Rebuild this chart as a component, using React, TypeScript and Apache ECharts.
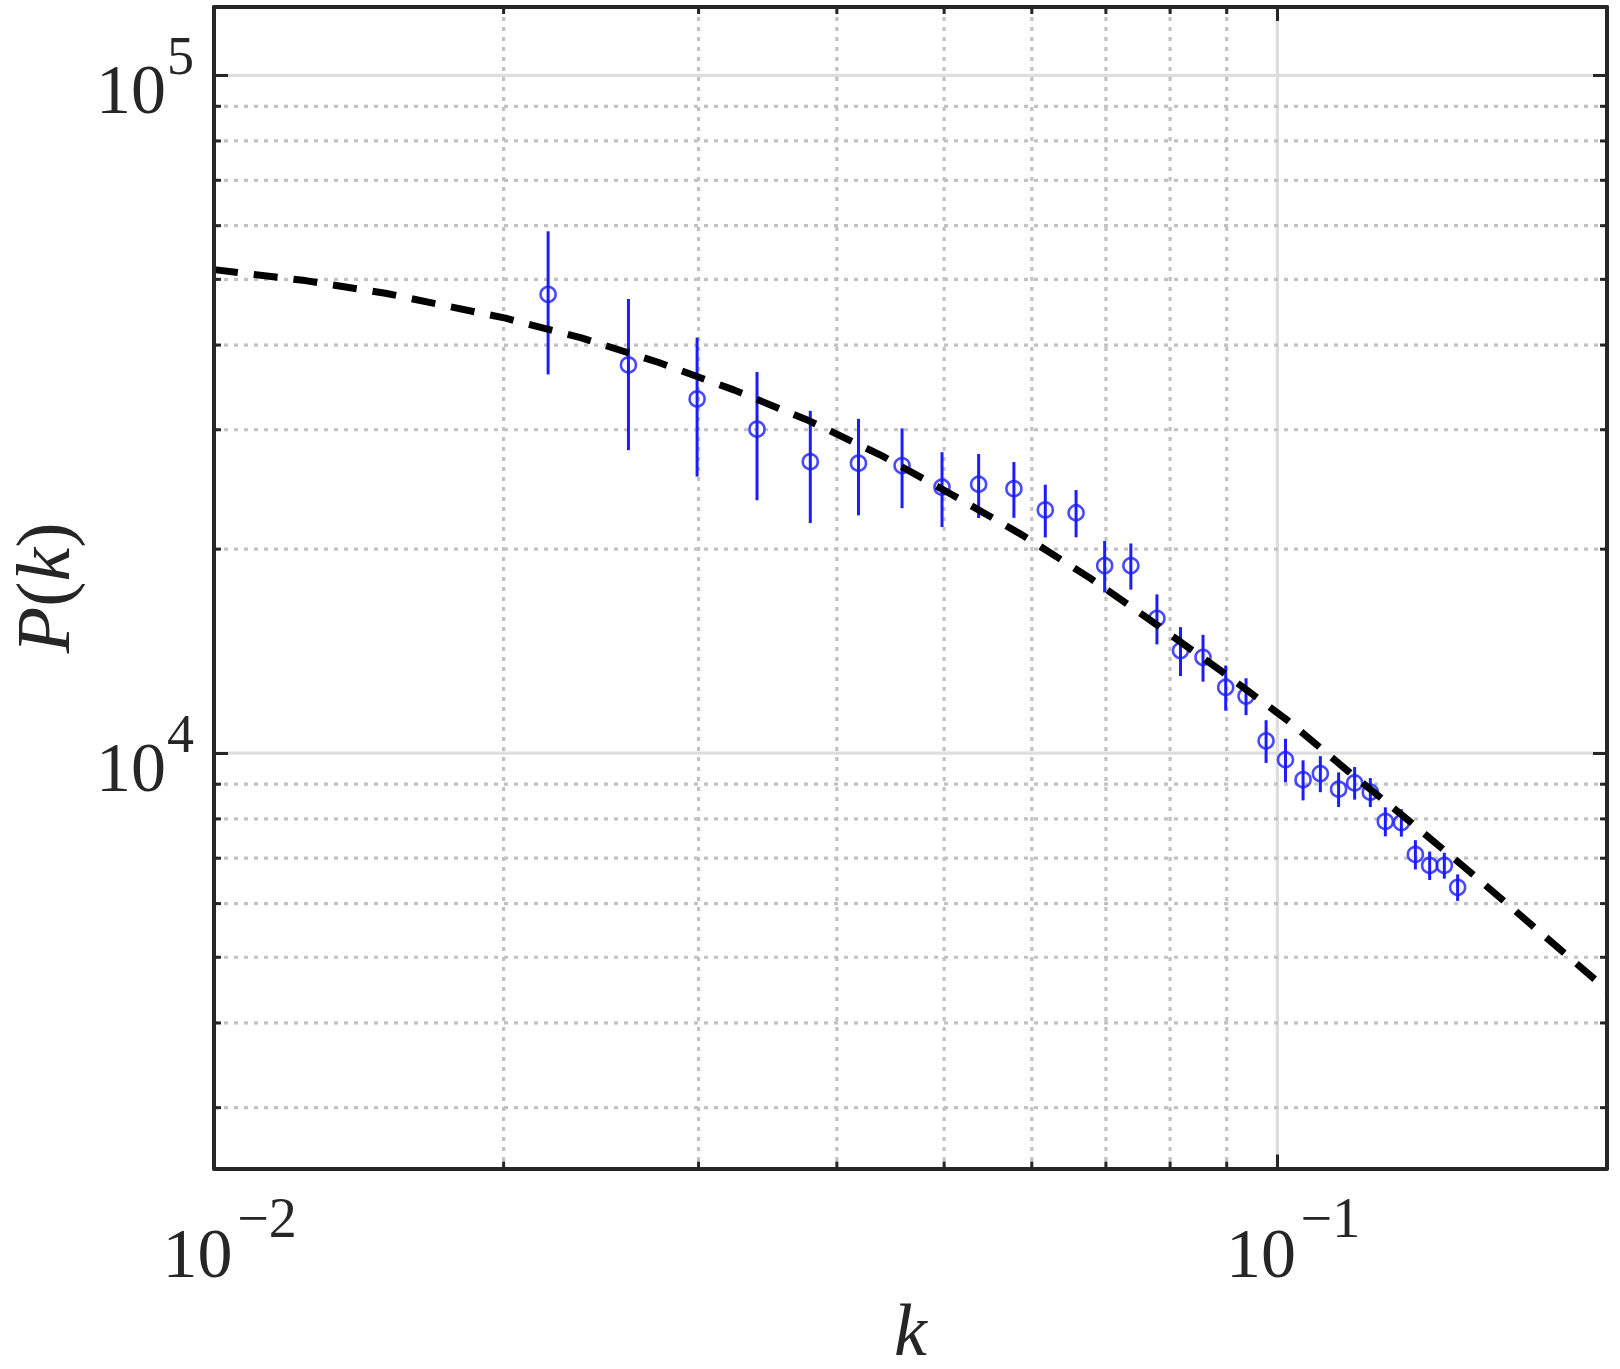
import React, { useEffect, useRef } from "react";
import * as echarts from "echarts";

// ---- data ----
const kValues = [
  0.02194, 0.02593, 0.02991, 0.03388, 0.03785, 0.04184, 0.04581, 0.04978,
  0.05372, 0.05781, 0.06171, 0.06579, 0.06982, 0.07373, 0.07784, 0.08175,
  0.08567, 0.08981, 0.09369, 0.09768, 0.1017, 0.10549, 0.10935, 0.11358,
  0.11743, 0.12133, 0.12518, 0.12942, 0.13325, 0.13727, 0.14152, 0.14549,
];
const pValues = [
  47530, 37380, 33310, 30060, 26920, 26780, 26560, 24680,
  24930, 24560, 22850, 22630, 18910, 18910, 15810, 14170,
  13850, 12510, 12140, 10430, 9780, 9140, 9330, 8850,
  9040, 8760, 7930, 7900, 7090, 6830, 6830, 6340,
];
const pErrors = [
  11330, 9390, 7720, 6450, 5070, 4350, 3580, 3120,
  2700, 2320, 2040, 1810, 1650, 1480, 1340, 1175,
  1100, 955, 760, 755, 720, 620, 570, 520,
  500, 430, 390, 367, 353, 330, 300, 285,
];
const modelK = [
  0.01095, 0.01324, 0.01564, 0.02008, 0.02347, 0.02758, 0.03228, 0.03772,
  0.04395, 0.05088, 0.05879, 0.06779, 0.07784, 0.08913, 0.102, 0.116,
  0.1318, 0.1504, 0.1985,
];
const modelP = [
  51680, 49790, 47700, 43820, 41020, 37730, 34350, 30950,
  27450, 24040, 20990, 18110, 15460, 13190, 11200, 9391,
  7924, 6612, 4477,
];
const xMinorTicks = [0.02, 0.03, 0.04, 0.05, 0.06, 0.07, 0.08, 0.09];
const xMajorGrid = [0.1];
const yMinorTicks = [
  3000, 4000, 5000, 6000, 7000, 8000, 9000,
  20000, 30000, 40000, 50000, 60000, 70000, 80000, 90000,
];
const yMajorGrid = [10000, 100000];
const X_MIN = 0.01095;
const X_MAX = 0.1985;
const Y_MIN = 2440;
const Y_MAX = 126100;

const FONT = "Liberation Serif";
const DARK = "#262626";
const BLUE = "#1c1cff";

// vertical placement of the y tick label parts, in decades of the log axis
const Y_EXP_SHIFT = -0.029; // exponent sits above the decade line
const Y_BASE_SHIFT = 0.021; // "10" sits slightly below it

function xBase(v: number): string {
  if (Math.abs(Math.log10(v) + 1) < 1e-6) return "10";
  if (v < 0.0115) return "10";
  return "";
}
function xExp(v: number): string {
  if (Math.abs(Math.log10(v) + 1) < 1e-6) return "\u22121";
  if (v < 0.0115) return "\u22122";
  return "";
}
function isDecade(v: number): boolean {
  const e = Math.log10(v);
  return Math.abs(e - Math.round(e)) < 1e-6 && (Math.round(e) === 4 || Math.round(e) === 5);
}
function yBase(v: number): string {
  return isDecade(v) ? "10" : "";
}
function yExp(v: number): string {
  return isDecade(v) ? String(Math.round(Math.log10(v))) : "";
}

export default function App() {
  const ref = useRef<HTMLDivElement>(null);
  useEffect(() => {
    if (!ref.current) return;
    const chart = echarts.init(ref.current, undefined, { renderer: "svg" });

    const tick = { inside: true, length: 14, lineStyle: { color: DARK, width: 3 } };
    const axLine = { show: true, onZero: false, lineStyle: { color: DARK, width: 4 } };

    const vLines = (solid: boolean) => (params: any, api: any) => {
      const cs = params.coordSys;
      const x = api.coord([api.value(0), 10000])[0];
      const children: any[] = [
        {
          type: "line",
          shape: { x1: x, y1: cs.y, x2: x, y2: cs.y + cs.height },
          style: solid
            ? { stroke: "#dedede", lineWidth: 3.3 }
            : { stroke: "#c2c2c2", lineWidth: 3.2, lineDash: [4, 6] },
        },
      ];
      if (!solid) {
        children.push(
          { type: "line", shape: { x1: x, y1: cs.y + cs.height, x2: x, y2: cs.y + cs.height - 7 }, style: { stroke: DARK, lineWidth: 3 } },
          { type: "line", shape: { x1: x, y1: cs.y, x2: x, y2: cs.y + 7 }, style: { stroke: DARK, lineWidth: 3 } }
        );
      }
      return { type: "group", children };
    };
    const hLines = (solid: boolean) => (params: any, api: any) => {
      const cs = params.coordSys;
      const y = api.coord([0.05, api.value(1)])[1];
      const children: any[] = [
        {
          type: "line",
          shape: { x1: cs.x, y1: y, x2: cs.x + cs.width, y2: y },
          style: solid
            ? { stroke: "#dedede", lineWidth: 3.3 }
            : { stroke: "#c2c2c2", lineWidth: 3.2, lineDash: [4, 6] },
        },
      ];
      if (!solid) {
        children.push(
          { type: "line", shape: { x1: cs.x, y1: y, x2: cs.x + 7, y2: y }, style: { stroke: DARK, lineWidth: 3 } },
          { type: "line", shape: { x1: cs.x + cs.width, y1: y, x2: cs.x + cs.width - 7, y2: y }, style: { stroke: DARK, lineWidth: 3 } }
        );
      }
      return { type: "group", children };
    };

    const hiddenX = (label: any) => ({
      type: "log",
      logBase: 10,
      min: X_MIN,
      max: X_MAX,
      position: "bottom",
      z: 10,
      axisLine: { show: false },
      axisTick: { show: false },
      splitLine: { show: false },
      axisLabel: label,
    });
    const hiddenY = (shift: number, label: any) => ({
      type: "log",
      logBase: 10,
      min: Y_MIN * Math.pow(10, shift),
      max: Y_MAX * Math.pow(10, shift),
      position: "left",
      z: 10,
      axisLine: { show: false },
      axisTick: { show: false },
      splitLine: { show: false },
      axisLabel: label,
    });

    chart.setOption({
      animation: false,
      backgroundColor: "#ffffff",
      grid: {
        left: 214,
        top: 7,
        right: 13,
        bottom: 200.5,
        containLabel: false,
        outerBoundsMode: "none",
      },
      xAxis: [
        {
          type: "log",
          logBase: 10,
          min: X_MIN,
          max: X_MAX,
          position: "bottom",
          z: 10,
          axisLine: axLine,
          axisTick: tick,
          splitLine: { show: false },
          minorTick: { show: false },
          axisLabel: {
            formatter: xBase,
            fontSize: 70,
            fontFamily: FONT,
            color: DARK,
            margin: 50,
            padding: [0, 33, 0, 0],
            showMinLabel: true,
            showMaxLabel: false,
            hideOverlap: false,
          },
          name: "k",
          nameLocation: "middle",
          nameGap: 113,
          nameTextStyle: {
            fontFamily: FONT,
            fontSize: 74,
            fontStyle: "italic",
            color: DARK,
          },
        },
        {
          type: "log",
          logBase: 10,
          min: X_MIN,
          max: X_MAX,
          position: "top",
          z: 10,
          axisLine: axLine,
          axisTick: tick,
          splitLine: { show: false },
          axisLabel: { show: false },
        },
        hiddenX({
          formatter: xExp,
          fontSize: 56,
          fontFamily: FONT,
          color: DARK,
          margin: 21,
          padding: [0, 0, 0, 106],
          showMinLabel: true,
          showMaxLabel: false,
          hideOverlap: false,
        }),
      ],
      yAxis: [
        {
          type: "log",
          logBase: 10,
          min: Y_MIN,
          max: Y_MAX,
          position: "left",
          z: 10,
          axisLine: axLine,
          axisTick: tick,
          splitLine: { show: false },
          axisLabel: { show: false },
          name: "{i|P}{n|(}{i|k}{n|)}",
          nameLocation: "middle",
          nameGap: 133,
          nameTextStyle: {
            fontFamily: FONT,
            fontSize: 76,
            rich: {
              i: { fontSize: 76, fontStyle: "italic", fontFamily: FONT, color: DARK },
              n: { fontSize: 76, fontFamily: FONT, color: DARK },
            },
          },
        },
        {
          type: "log",
          logBase: 10,
          min: Y_MIN,
          max: Y_MAX,
          position: "right",
          z: 10,
          axisLine: axLine,
          axisTick: tick,
          splitLine: { show: false },
          axisLabel: { show: false },
        },
        hiddenY(Y_EXP_SHIFT, {
          formatter: yExp,
          fontSize: 54,
          fontFamily: FONT,
          color: DARK,
          margin: 20,
          showMinLabel: false,
          showMaxLabel: false,
          hideOverlap: false,
        }),
        hiddenY(Y_BASE_SHIFT, {
          formatter: yBase,
          fontSize: 70,
          fontFamily: FONT,
          color: DARK,
          margin: 48,
          showMinLabel: false,
          showMaxLabel: false,
          hideOverlap: false,
        }),
      ],
      series: [
        {
          type: "custom",
          name: "xMajorGrid",
          z: 1,
          silent: true,
          renderItem: vLines(true),
          data: xMajorGrid.map((v) => [v, 10000]),
        },
        {
          type: "custom",
          name: "yMajorGrid",
          z: 1,
          silent: true,
          renderItem: hLines(true),
          data: yMajorGrid.map((v) => [0.05, v]),
        },
        {
          type: "custom",
          name: "xMinorGrid",
          z: 1,
          silent: true,
          renderItem: vLines(false),
          data: xMinorTicks.map((v) => [v, 10000]),
        },
        {
          type: "custom",
          name: "yMinorGrid",
          z: 1,
          silent: true,
          renderItem: hLines(false),
          data: yMinorTicks.map((v) => [0.05, v]),
        },
        {
          type: "custom",
          name: "errors",
          z: 3,
          renderItem: (params: any, api: any) => {
            const k = api.value(0);
            const p = api.value(1);
            const e = api.value(2);
            const a = api.coord([k, p + e]);
            const b = api.coord([k, p - e]);
            return {
              type: "line",
              shape: { x1: a[0], y1: a[1], x2: b[0], y2: b[1] },
              style: { stroke: BLUE, lineWidth: 3 },
            };
          },
          encode: { x: 0, y: 1 },
          data: kValues.map((k, i) => [k, pValues[i], pErrors[i]]),
        },
        {
          type: "scatter",
          name: "data",
          z: 4,
          symbol: "circle",
          symbolSize: 15,
          itemStyle: { color: "rgba(0,0,0,0)", borderColor: BLUE, borderWidth: 2.6 },
          data: kValues.map((k, i) => [k, pValues[i]]),
        },
        {
          type: "line",
          name: "model",
          z: 5,
          showSymbol: false,
          symbol: "none",
          lineStyle: { color: "#000000", width: 7, type: [24, 16], cap: "butt" },
          data: modelK.map((k, i) => [k, modelP[i]]),
        },
      ],
    });
    return () => chart.dispose();
  }, []);
  return (
    <div
      ref={ref}
      style={{ position: "absolute", left: 0, top: 0, width: 1620, height: 1369, background: "#fff" }}
    />
  );
}
